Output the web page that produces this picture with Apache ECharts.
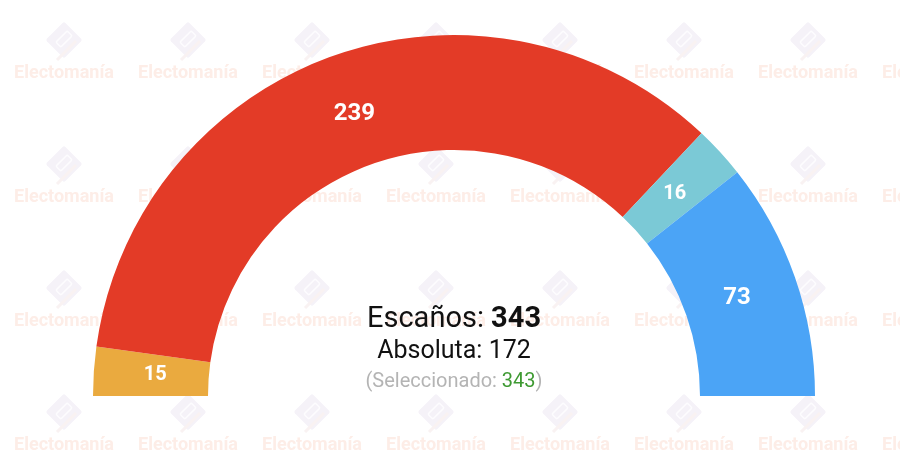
<!DOCTYPE html>
<html>
<head>
<meta charset="utf-8">
<script src="https://cdn.jsdelivr.net/npm/echarts@6/dist/echarts.min.js"></script>
<style>
html,body{margin:0;padding:0;background:#fff;}
#chart{width:900px;height:460px;}
</style>
</head>
<body>
<div id="chart"></div>
<script>
var parties = ['Otros', 'Rojo', 'Turquesa', 'Azul'];
var seats = [15, 239, 16, 73];
var colors = ['#EAAA3F', '#E33B27', '#7BC9D6', '#4BA4F6'];
var totalSeats = 343;
var majority = 172;
var selected = 343;

var chart = echarts.init(document.getElementById('chart'));

// watermark grid
var wm = [];
var cols = [64, 188, 312, 436, 560, 684, 808, 932];
var rows = [73, 197, 321, 445];
rows.forEach(function (y) {
  cols.forEach(function (x) {
    wm.push({
      type: 'group', x: x, y: y, z: -10, silent: true,
      children: [
        {
          type: 'rect', shape: { x: -13, y: -13, width: 26, height: 26, r: 2 },
          rotation: Math.PI / 4, x: 0, y: -33,
          style: { fill: '#f5f2f8' }
        },
        {
          type: 'rect', shape: { x: -8, y: -3.5, width: 16, height: 7, r: 1.5 },
          rotation: Math.PI / 4, x: 0, y: -34,
          style: { fill: 'none', stroke: '#fdfcfe', lineWidth: 1.5 }
        },
        {
          type: 'polyline', shape: { points: [[-7, -13], [2, -22], [12, -32]] },
          style: { stroke: '#f9f2f2', lineWidth: 3, fill: 'none' }
        },
        {
          type: 'text', x: 0, y: 0,
          style: {
            text: 'Electomanía', x: 0, y: 0, align: 'center', verticalAlign: 'middle',
            fontSize: 18, fontWeight: 'bold', fontFamily: 'Roboto',
            fill: '#fdede7'
          }
        }
      ]
    });
  });
});

wm.push({
  type: 'text', x: 454, y: 320, z: 10,
  style: {
    text: '{a|Escaños: }{b|' + totalSeats + '}',
    align: 'center', verticalAlign: 'middle',
    rich: {
      a: { fontSize: 29, fontFamily: 'Roboto', fill: '#111' },
      b: { fontSize: 29, fontFamily: 'Roboto', fontWeight: 'bold', fill: '#111' }
    }
  }
});
wm.push({
  type: 'text', x: 454, y: 352, z: 10,
  style: { text: 'Absoluta: ' + majority, align: 'center', verticalAlign: 'middle', fontSize: 25, fontFamily: 'Roboto', fill: '#111' }
});
wm.push({
  type: 'text', x: 454, y: 382, z: 10,
  style: {
    text: '{g|(Seleccionado: }{s|' + selected + '}{g|)}',
    align: 'center', verticalAlign: 'middle',
    rich: {
      g: { fontSize: 20, fontFamily: 'Roboto', fill: '#b4b4b4' },
      s: { fontSize: 20, fontFamily: 'Roboto', fill: '#3f9a33' }
    }
  }
});

var labelSizes = seats.map(function (v) { return v >= 50 ? 24 : 20; });

chart.setOption({
  animation: false,
  graphic: wm,
  series: [{
    type: 'pie',
    center: [454, 396],
    radius: [246, 361],
    startAngle: 180,
    endAngle: 360,
    clockwise: true,
    label: { show: false },
    labelLine: { show: false },
    itemStyle: { borderWidth: 0 },
    emphasis: { disabled: true },
    data: parties.map(function (p, i) {
      return { name: p, value: seats[i], itemStyle: { color: colors[i] } };
    })
  }, {
    type: 'pie',
    center: [454, 396],
    radius: [246, 347],
    startAngle: 180,
    endAngle: 360,
    clockwise: true,
    silent: true,
    avoidLabelOverlap: false,
    z: 3,
    label: {
      show: true, position: 'inside', formatter: '{c}',
      color: '#fff', fontFamily: 'Roboto', fontWeight: 'bold'
    },
    labelLine: { show: false },
    itemStyle: { color: 'rgba(0,0,0,0)', borderWidth: 0 },
    emphasis: { disabled: true },
    data: parties.map(function (p, i) {
      return { name: p, value: seats[i], label: { fontSize: labelSizes[i] } };
    })
  }]
});
</script>
</body>
</html>
